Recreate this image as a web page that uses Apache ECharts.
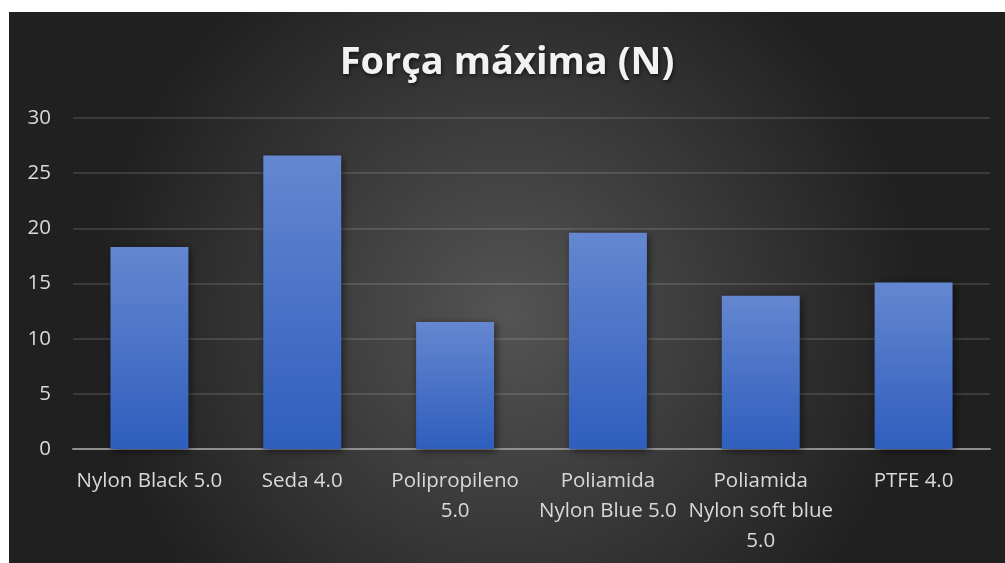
<!DOCTYPE html>
<html>
<head>
<meta charset="utf-8">
<script src="https://cdn.jsdelivr.net/npm/echarts@6/dist/echarts.min.js"></script>
<style>
  body { margin: 0; background: #fff; }
  #chart { position: absolute; left: 9px; top: 12px; width: 996px; height: 551px; }
</style>
</head>
<body>
<div id="chart"></div>
<script>
const categories = [
  'Nylon Black 5.0',
  'Seda 4.0',
  'Polipropileno\n5.0',
  'Poliamida\nNylon Blue 5.0',
  'Poliamida\nNylon soft blue\n5.0',
  'PTFE 4.0'
];
const forcaMaxima = [18.3, 26.6, 11.5, 19.6, 13.9, 15.1];
const yTicks = [0, 5, 10, 15, 20, 25, 30];

const myChart = echarts.init(document.getElementById('chart'));
const option = {
  backgroundColor: new echarts.graphic.RadialGradient(0.5, 0.55, 0.75, [
    { offset: 0, color: '#545454' },
    { offset: 1, color: '#202020' }
  ]),
  title: {
    text: 'Força máxima (N)',
    left: 'center',
    top: 27,
    textStyle: {
      color: '#f2f2f2',
      fontFamily: 'Open Sans',
      fontWeight: 'bold',
      fontSize: 38,
      textShadowColor: 'rgba(0,0,0,0.6)',
      textShadowBlur: 4,
      textShadowOffsetX: 1,
      textShadowOffsetY: 2
    }
  },
  grid: { left: 64, right: 15, top: 106, bottom: 114 },
  xAxis: {
    type: 'category',
    data: categories,
    axisTick: { show: false },
    axisLine: { lineStyle: { color: '#8f8f8f', width: 2 } },
    axisLabel: {
      color: '#d9d9d9',
      fontFamily: 'Open Sans',
      fontSize: 20.5,
      lineHeight: 30,
      margin: 17,
      interval: 0
    }
  },
  yAxis: {
    type: 'value',
    min: yTicks[0],
    max: yTicks[yTicks.length - 1],
    interval: 5,
    axisLine: { show: false },
    axisTick: { show: false },
    splitLine: { lineStyle: { color: 'rgba(255,255,255,0.12)', width: 2 } },
    axisLabel: {
      color: '#d9d9d9',
      fontFamily: 'Open Sans',
      fontSize: 20.5,
      margin: 22
    }
  },
  series: [
    {
      type: 'bar',
      data: forcaMaxima,
      barWidth: '51%',
      animation: false,
      itemStyle: {
        color: new echarts.graphic.LinearGradient(0, 0, 0, 1, [
          { offset: 0, color: '#6487d0' },
          { offset: 1, color: '#2f5ebd' }
        ]),
        shadowColor: 'rgba(0,0,0,0.55)',
        shadowBlur: 8,
        shadowOffsetX: 2,
        shadowOffsetY: 2
      }
    }
  ]
};
myChart.setOption(option);
</script>
</body>
</html>
